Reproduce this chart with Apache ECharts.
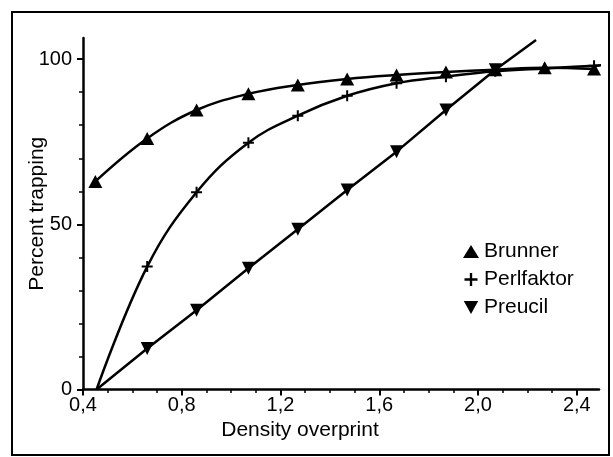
<!DOCTYPE html>
<html>
<head>
<meta charset="utf-8">
<script src="https://cdn.jsdelivr.net/npm/echarts@6/dist/echarts.min.js"></script>
<style>
html,body{margin:0;padding:0;background:#fff;}
#chart{width:613px;height:457px;}
</style>
</head>
<body>
<div id="chart"></div>
<script>
// ---- data ----
const seriesNames = ['Brunner', 'Perlfaktor', 'Preucil'];

const brunnerX = [0.45, 0.66, 0.86, 1.07, 1.27, 1.47, 1.67, 1.87, 2.07, 2.27, 2.47];
const brunnerY = [63, 76, 84.6, 89.5, 92.2, 94.0, 95.2, 96.1, 96.8, 97.4, 97.0];

const perlStart = [0.455, 0];
const perlX = [0.66, 0.86, 1.07, 1.27, 1.47, 1.67, 1.87, 2.07, 2.27, 2.47];
const perlY = [37.2, 59.7, 74.7, 82.9, 88.9, 92.7, 94.7, 96.3, 97.2, 98.0];
const perlEnd = [2.52, 98.3];

const preucilStart = [0.455, 0];
const preucilX = [0.66, 0.86, 1.07, 1.27, 1.47, 1.67, 1.87, 2.07];
const preucilY = [12.4, 24.0, 36.7, 48.5, 60.4, 72.0, 84.6, 96.8];
const preucilEnd = [2.235, 105.8];

const xMajorTicks = [0.4, 0.8, 1.2, 1.6, 2.0, 2.4];
const xMinorTicks = [0.5, 0.6, 0.7, 0.9, 1.0, 1.1, 1.3, 1.4, 1.5, 1.7, 1.8, 1.9, 2.1, 2.2, 2.3];
const yMajorTicks = [0, 50, 100];
const yMinorTicks = [10, 20, 30, 40, 60, 70, 80, 90];

const xName = 'Density overprint';
const yName = 'Percent trapping';

// ---- build ----
const FONT = 'Liberation Sans, Arial, Helvetica, sans-serif';
const plusPath = 'path://M4.5,0h2v4.5h4.5v2h-4.5v4.5h-2v-4.5h-4.5v-2h4.5z';
const downTri = 'path://M0,0L10,0L5,9Z';

function zip(xs, ys) { return xs.map((x, i) => [x, ys[i]]); }
const hidden = p => ({ value: p, symbol: 'none' });

const brunnerData = zip(brunnerX, brunnerY);
const perlData = [hidden(perlStart)].concat(zip(perlX, perlY), [hidden(perlEnd)]);
const preucilData = [hidden(preucilStart)].concat(zip(preucilX, preucilY), [hidden(preucilEnd)]);

const commaFmt = v => v.toFixed(1).replace('.', ',');

const chart = echarts.init(document.getElementById('chart'), null, { renderer: 'canvas' });
const XMIN = 0.4, XMAX = 2.49, YMIN = 0, YMAX = 106.4;

chart.setOption({
  animation: false,
  backgroundColor: '#fff',
  textStyle: { fontFamily: FONT, color: '#000' },
  grid: { left: 83, right: 14, top: 38, bottom: 67.5, outerBoundsMode: 'none' },
  graphic: [{
    type: 'rect', shape: { x: 12, y: 12, width: 597, height: 443 },
    style: { fill: 'none', stroke: '#000', lineWidth: 2 }, silent: true, z: 100
  }],
  legend: {
    orient: 'vertical', left: 463, top: 241, padding: 0,
    itemWidth: 16, itemHeight: 13, itemGap: 7,
    textStyle: { fontFamily: FONT, fontSize: 21, color: '#000' },
    data: [
      { name: 'Brunner', icon: 'triangle' },
      { name: 'Perlfaktor', icon: plusPath },
      { name: 'Preucil', icon: downTri }
    ]
  },
  xAxis: [{
    type: 'value', min: XMIN, max: XMAX, position: 'bottom',
    name: xName, nameLocation: 'middle', nameGap: 30, nameMoveOverlap: false,
    nameTextStyle: { fontFamily: FONT, fontSize: 21, color: '#000', padding: [0, 82, 0, 0] },
    axisLine: { show: true, onZero: false, lineStyle: { color: '#000', width: 2.5 } },
    axisTick: { show: true, customValues: xMajorTicks, length: 6, lineStyle: { color: '#000', width: 2 } },
    axisLabel: { customValues: xMajorTicks, formatter: commaFmt, fontFamily: FONT, fontSize: 20, color: '#000', margin: 6 },
    splitLine: { show: false }
  }, {
    type: 'value', min: XMIN, max: XMAX, position: 'bottom',
    axisLine: { show: false },
    axisTick: { show: true, customValues: xMinorTicks, length: 3.5, lineStyle: { color: '#000', width: 1.5 } },
    axisLabel: { show: false },
    splitLine: { show: false }
  }],
  yAxis: [{
    type: 'value', min: YMIN, max: YMAX, position: 'left',
    name: yName, nameLocation: 'middle', nameGap: 35, nameMoveOverlap: false,
    nameTextStyle: { fontFamily: FONT, fontSize: 21, color: '#000' },
    axisLine: { show: true, onZero: false, lineStyle: { color: '#000', width: 2.5 } },
    axisTick: { show: true, customValues: yMajorTicks, length: 6, lineStyle: { color: '#000', width: 2 } },
    axisLabel: { customValues: yMajorTicks, fontFamily: FONT, fontSize: 20, color: '#000', margin: 11 },
    splitLine: { show: false }
  }, {
    type: 'value', min: YMIN, max: YMAX, position: 'left',
    axisLine: { show: false },
    axisTick: { show: true, customValues: yMinorTicks, length: 4, lineStyle: { color: '#000', width: 1.5 } },
    axisLabel: { show: false },
    splitLine: { show: false }
  }],
  series: [{
    name: 'Brunner', type: 'line', data: brunnerData, smooth: 0.4,
    symbol: 'triangle', symbolSize: [14, 13], showAllSymbol: true,
    lineStyle: { color: '#000', width: 2.5 }, itemStyle: { color: '#000' }, z: 3
  }, {
    name: 'Perlfaktor', type: 'line', data: perlData, smooth: 0.4, clip: false,
    symbol: plusPath, symbolSize: 11, showAllSymbol: true,
    lineStyle: { color: '#000', width: 2.5 }, itemStyle: { color: '#000' }, z: 2
  }, {
    name: 'Preucil', type: 'line', data: preucilData, smooth: false,
    symbol: 'triangle', symbolRotate: 180, symbolSize: [13, 13], showAllSymbol: true,
    lineStyle: { color: '#000', width: 2.5 }, itemStyle: { color: '#000' }, z: 4
  }]
});
</script>
</body>
</html>
